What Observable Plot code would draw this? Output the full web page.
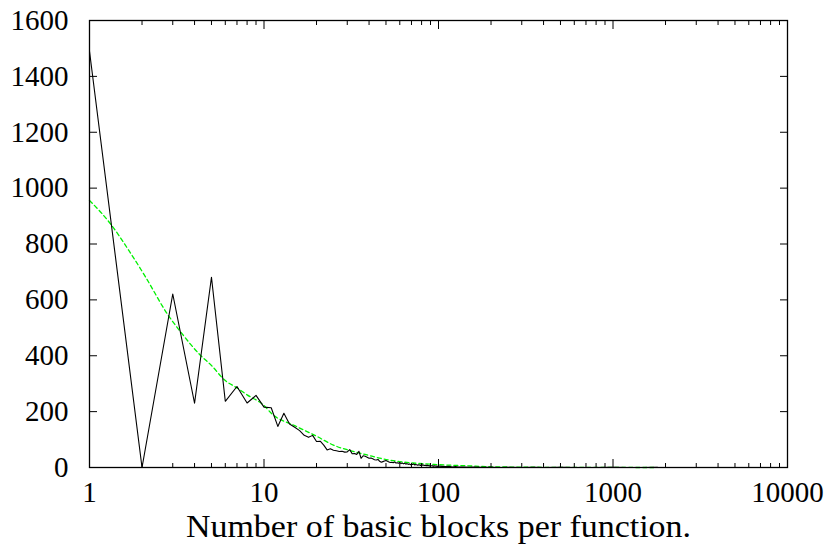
<!DOCTYPE html>
<html><head><meta charset="utf-8">
<script src="https://cdn.jsdelivr.net/npm/d3@7"></script>
<script src="https://cdn.jsdelivr.net/npm/@observablehq/plot@0.6"></script>
<style>html,body{margin:0;padding:0;background:#fff} svg{display:block}</style>
</head><body><div id="chart"></div>
<script>
// Number of basic blocks per function (x) and number of functions (y)
const blocks = [
  1,2,3,4,5,6,7,8,9,10,11,12,13,14,15,16,17,18,19,20,
  21,22,23,24,25,26,27,28,29,30,31,32,33,34,35,36,37,38,39,40,
  41,42,43,44,45,46,47,48,49,50,51,52,53,54,55,56,57,58,59,60,
  61,62,63,64,65,66,67,68,69,70,71,72,73,74,75,76,77,78,79,80,
  81,82,83,84,85,86,87,88,89,90,91,92,93,94,95,96,97,98,99,100,
  105,110,115,120,125,130,140,150,160,175,200,225,250,300,350,400,500,600,800,1000,1200,1500,1800
];
const functions = [
  1490,0,621,230,681,237,290,231,258,216,214,147,194,156,144,132,115,108,115,93,
  94,80,63,67,62,60,57,58,55,56,64,49,50,47,58,33,42,40,37,33,
  34,31,28,27,29,22,19,21,23,25,22,20,18,19,17,20,16,17,15,18,
  14,16,13,15,12,14,11,13,10,12,11,13,9,11,10,8,10,9,7,11,
  8,9,7,8,6,9,6,7,5,8,6,5,7,4,6,5,4,6,3,5,
  4,3,4,2,3,2,2,1,2,1,1,0,1,0,1,0,1,0,0,1,0,0,1
];
// Fitted curve (green dashed)
const fitX = [1,1.32,1.68,2.1,2.79,3.4,4.24,5,6,7,8,10,11.1,15,20,25,31,39,48,60,75,94,120,147,190,228,300,500,1000,1750];
const fitY = [956,872,777,681,550,478,407,365,311,285,260,222,192,150,112,80,61,45,31,21,15,11,8,6,3,2,1.2,0.5,0.2,0];

const yTicks = [0,200,400,600,800,1000,1200,1400,1600];
const xMajor = [1,10,100,1000,10000];
const xMinor = [2,3,4,5,6,7,8,9,20,30,40,50,60,70,80,90,200,300,400,500,600,700,800,900,2000,3000,4000,5000,6000,7000,8000,9000];
const xLabel = "Number of basic blocks per function.";

const data = blocks.map((b, i) => ({x: b, y: functions[i]}));
const fit = fitX.map((b, i) => ({x: b, y: fitY[i]}));

const FS = 29;
const TFS = 31;
const blank = () => "";
const chart = Plot.plot({
  width: 827, height: 556,
  marginLeft: 89, marginRight: 40, marginTop: 20, marginBottom: 89,
  x: {type: "log", domain: [1, 10000]},
  y: {domain: [0, 1600]},
  style: {fontFamily: "'Liberation Serif', serif", fontSize: FS + "px", background: "white", color: "black"},
  marks: [
    Plot.line(fit, {x: "x", y: "y", stroke: "#00f000", strokeWidth: 1.3, strokeDasharray: "4,3", curve: "monotone-x"}),
    Plot.line(data, {x: "x", y: "y", stroke: "black", strokeWidth: 1.1}),
    Plot.frame({stroke: "black", strokeWidth: 1.3}),
    // tick labels
    Plot.axisY(yTicks, {tickSize: 0, tickPadding: 21, fontSize: FS, tickFormat: d => String(d), label: null}),
    Plot.axisX(xMajor, {tickSize: 0, tickPadding: 14, fontSize: FS, tickFormat: d => String(d), label: null}),
    // inward major ticks (mirrored)
    Plot.axisY(yTicks, {anchor: "left", tickSize: 8, dx: 8, tickFormat: blank, label: null}),
    Plot.axisY(yTicks, {anchor: "right", tickSize: 8, dx: -8, tickFormat: blank, label: null}),
    Plot.axisX(xMajor, {anchor: "bottom", tickSize: 8, dy: -8, tickFormat: blank, label: null}),
    Plot.axisX(xMajor, {anchor: "top", tickSize: 8, dy: 8, tickFormat: blank, label: null}),
    // inward minor ticks
    Plot.axisX(xMinor, {anchor: "bottom", tickSize: 4, dy: -4, tickFormat: blank, label: null}),
    Plot.axisX(xMinor, {anchor: "top", tickSize: 4, dy: 4, tickFormat: blank, label: null}),
    // axis title
    Plot.text([xLabel], {frameAnchor: "bottom", dy: 69, fontSize: TFS, fill: "black", className: "xtitle"})
  ]
});
// widen the title glyphs to match the wide serif of the reference
d3.select(chart).selectAll(".xtitle text").attr("textLength", 505).attr("lengthAdjust", "spacingAndGlyphs");
document.getElementById("chart").appendChild(chart);
</script>
</body></html>
